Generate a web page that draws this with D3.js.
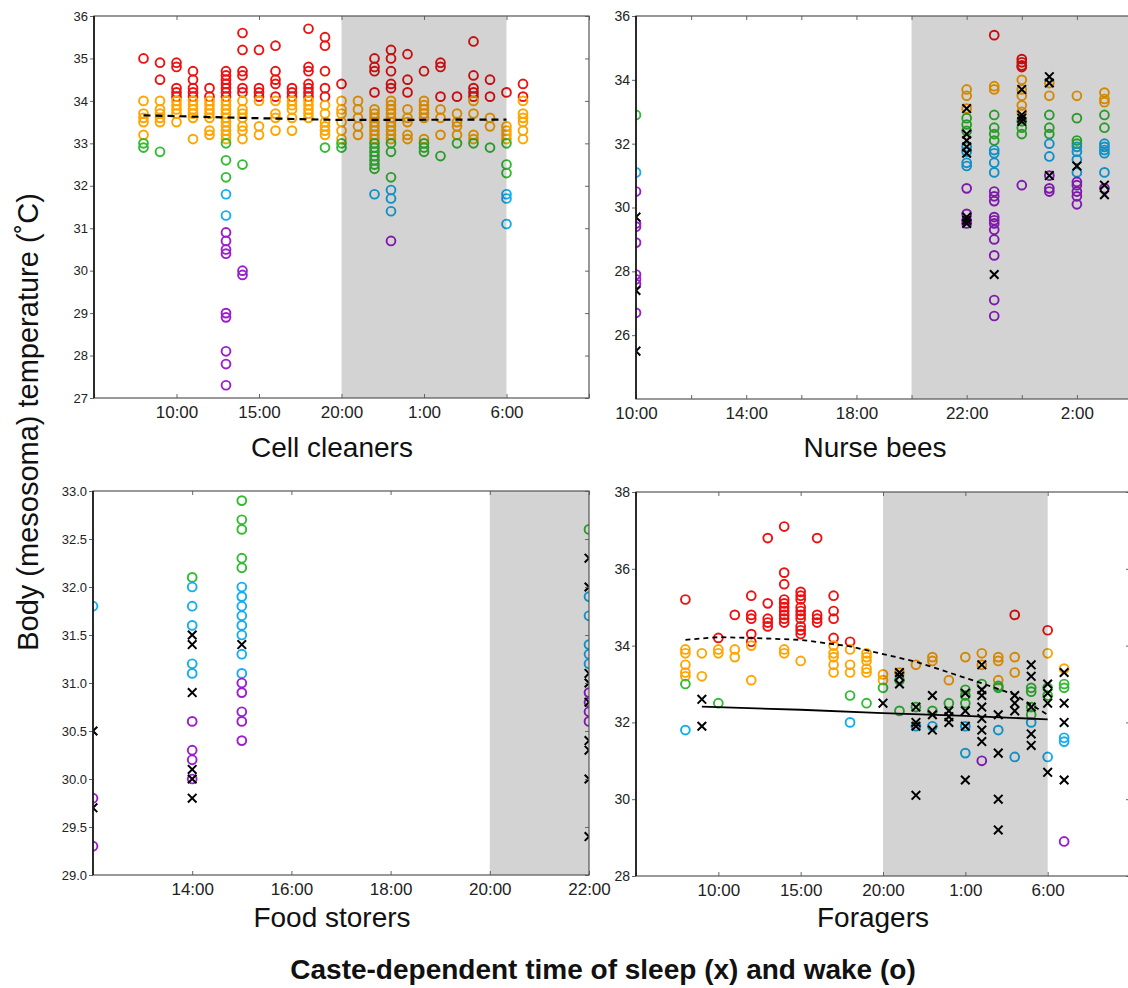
<!DOCTYPE html>
<html>
<head>
<meta charset="utf-8">
<script src="https://cdn.jsdelivr.net/npm/d3@7"></script>
<style>
  body { margin: 0; background: #fff; }
  svg { display: block; font-family: "Liberation Sans", Arial, Helvetica, sans-serif; }
</style>
</head>
<body>
<div id="chart"></div>
<script>
// hours run past midnight as 24, 25, ... (25 = 1:00 next day)
// each entry: [hour, [temperatures]]

// Cell cleaners
const cleanersRed = [
  [8, [35.0]], [9, [34.9, 34.5]], [10, [34.9, 34.8, 34.3, 34.2, 34.1]],
  [11, [34.7, 34.5, 34.3, 34.2, 34.1]], [12, [34.3, 34.1]],
  [13, [34.7, 34.6, 34.5, 34.4, 34.3, 34.2, 34.1]], [14, [35.6, 35.2, 34.7, 34.6, 34.3, 34.2]],
  [15, [35.2, 34.3, 34.2, 34.1]], [16, [35.3, 34.7, 34.5, 34.4, 34.1]], [17, [34.3, 34.2, 34.1]],
  [18, [35.7, 34.8, 34.7, 34.4, 34.3, 34.2, 34.1]], [19, [35.5, 35.3, 34.7, 34.3, 34.1]],
  [20, [34.4]], [22, [35.0, 34.8, 34.7, 34.2]], [23, [35.2, 35.0, 34.7, 34.4, 34.3]],
  [24, [35.1, 34.5, 34.2]], [25, [34.7]], [26, [34.9, 34.8, 34.1]], [27, [34.1]],
  [28, [35.4, 34.6, 34.3, 34.2, 34.1]], [29, [34.5, 34.1]], [30, [34.2]], [31, [34.4, 34.1]]
];
const cleanersOrange = [
  [8, [34.0, 33.7, 33.6, 33.5, 33.2]], [9, [34.0, 33.8, 33.7, 33.6, 33.5]],
  [10, [34.0, 33.9, 33.8, 33.7, 33.5]], [11, [34.0, 33.9, 33.8, 33.7, 33.6, 33.1]],
  [12, [34.0, 33.9, 33.8, 33.7, 33.6, 33.3, 33.2]],
  [13, [34.0, 33.9, 33.8, 33.7, 33.6, 33.5, 33.4, 33.3, 33.2, 33.1]],
  [14, [34.0, 33.8, 33.7, 33.6, 33.4, 33.3, 33.1]], [15, [34.0, 33.4, 33.2]],
  [16, [34.0, 33.7, 33.6, 33.3]], [17, [34.0, 33.9, 33.8, 33.6, 33.3]],
  [18, [34.0, 33.9, 33.8, 33.7, 33.6]], [19, [33.9, 33.7, 33.5, 33.4, 33.3, 33.2]],
  [20, [34.0, 33.8, 33.7, 33.5, 33.3, 33.1]], [21, [34.0, 33.8, 33.6, 33.4, 33.2]],
  [22, [33.8, 33.7, 33.6, 33.5, 33.4, 33.3, 33.2, 33.1]],
  [23, [34.0, 33.9, 33.8, 33.7, 33.6, 33.5, 33.4, 33.3, 33.2, 33.1]],
  [24, [33.8, 33.6, 33.5, 33.2, 33.1]], [25, [34.0, 33.9, 33.8, 33.7, 33.6, 33.1]],
  [26, [33.8, 33.6, 33.2]], [27, [33.7, 33.5, 33.4, 33.2]], [28, [34.0, 33.7, 33.2, 33.1]],
  [29, [33.6, 33.4]], [30, [33.4, 33.3, 33.2, 33.1]], [31, [34.0, 33.7, 33.6, 33.5, 33.3, 33.1]]
];
const cleanersGreen = [
  [8, [33.0, 32.9]], [9, [32.8]], [13, [33.0, 32.6, 32.2]], [14, [32.5]], [19, [32.9]],
  [20, [33.0, 32.9]], [22, [33.0, 32.9, 32.8, 32.7, 32.6, 32.5, 32.4]], [23, [33.0, 32.8, 32.2]],
  [25, [33.0, 32.9, 32.8]], [26, [32.7]], [27, [33.0]], [28, [33.0]], [29, [32.9]],
  [30, [33.0, 32.5, 32.3]]
];
const cleanersBlue = [[13, [31.8, 31.3]], [22, [31.8]], [23, [31.9, 31.7, 31.4]], [30, [31.8, 31.7, 31.1]]];
const cleanersPurple = [[13, [30.9, 30.7, 30.5, 30.4, 29.0, 28.9, 28.1, 27.8, 27.3]], [14, [30.0, 29.9]], [23, [30.7]]];
const cleanersSleep = [];
const cleanersWakeMean = [[8, 33.66], [14, 33.6], [20, 33.55], [30, 33.56]];

// Nurse bees
const nurseRed = [[23, [35.4]], [24, [34.65, 34.55, 34.45, 34.4]]];
const nurseOrange = [
  [22, [33.7, 33.5, 33.1]], [23, [33.8, 33.7]], [24, [34.0, 33.7, 33.5, 33.2, 33.0]],
  [25, [33.9, 33.5]], [26, [33.5]], [27, [33.6, 33.4, 33.3]]
];
const nurseGreen = [
  [10, [32.9]], [22, [32.8, 32.6, 32.4]], [23, [32.9, 32.5, 32.3, 32.1]], [24, [32.7, 32.5, 32.3]],
  [25, [32.9, 32.5, 32.3]], [26, [32.8, 32.1, 32.0]], [27, [32.9, 32.5]]
];
const nurseBlue = [
  [10, [31.1]], [22, [31.9, 31.75, 31.4, 31.3]], [23, [31.8, 31.7, 31.4, 31.1]], [25, [32.0, 31.6]],
  [26, [31.9, 31.75, 31.5, 31.1]], [27, [32.0, 31.9, 31.8, 31.7, 31.1]]
];
const nursePurple = [
  [10, [30.5, 29.5, 29.4, 28.9, 27.9, 27.75, 27.6, 26.7]], [22, [30.6, 29.8, 29.6, 29.5]],
  [23, [30.5, 30.35, 30.2, 29.7, 29.6, 29.5, 29.3, 29.0, 28.5, 27.1, 26.6]], [24, [30.7]],
  [25, [31.0, 30.6, 30.5]], [26, [30.8, 30.7, 30.5, 30.35, 30.1]], [27, [30.6]]
];
const nurseSleep = [
  [10, [29.7, 27.4, 25.5]], [22, [33.1, 32.3, 32.1, 31.9, 31.7, 29.7, 29.6, 29.5]], [23, [27.9]],
  [24, [33.7, 32.9, 32.8, 32.7]], [25, [34.1, 33.9, 31.0]], [26, [31.3]], [27, [30.7, 30.4]]
];

// Food storers
const storersRed = [];
const storersOrange = [];
const storersGreen = [[14, [32.1]], [15, [32.9, 32.7, 32.6, 32.3, 32.2]], [22, [32.6]]];
const storersBlue = [
  [12, [31.8]], [14, [32.0, 31.8, 31.6, 31.2, 31.1]],
  [15, [32.0, 31.9, 31.8, 31.7, 31.6, 31.5, 31.3, 31.1]], [22, [31.9, 31.7, 31.4, 31.3, 31.2]]
];
const storersPurple = [
  [12, [29.8, 29.3]], [14, [30.6, 30.3, 30.2, 30.0]], [15, [31.0, 30.9, 30.7, 30.6, 30.4]],
  [22, [30.9, 30.8, 30.7, 30.6]]
];
const storersSleep = [
  [12, [30.5, 29.7]], [14, [31.5, 31.4, 30.9, 30.1, 30.0, 29.8]], [15, [31.4]],
  [22, [32.3, 32.0, 31.1, 31.0, 30.8, 30.4, 30.3, 30.0, 29.4]]
];

// Foragers
const foragersRed = [
  [8, [35.2]], [10, [34.2]], [11, [34.8]], [12, [35.3, 34.8, 34.7, 34.3, 34.1]],
  [13, [36.8, 35.1, 34.7, 34.6, 34.5]], [14, [37.1, 35.9, 35.6, 35.2, 35.1, 35.0, 34.9, 34.8, 34.7, 34.6]],
  [15, [35.4, 35.3, 35.2, 35.0, 34.9, 34.8, 34.7, 34.5, 34.4, 34.3]], [16, [36.8, 34.8, 34.7, 34.6]],
  [17, [35.3, 34.9, 34.7, 34.2]], [18, [34.1]], [28, [34.8]], [30, [34.4]]
];
const foragersOrange = [
  [8, [33.9, 33.8, 33.5, 33.3, 33.2]], [9, [33.8, 33.2]], [10, [33.9, 33.8]], [11, [33.9, 33.7]],
  [12, [34.0, 33.1]], [14, [33.9, 33.8]], [15, [33.6]], [17, [34.0, 33.8, 33.7, 33.5, 33.3]],
  [18, [33.9, 33.5, 33.3]], [19, [33.8, 33.7, 33.6, 33.4, 33.3]], [20, [33.25, 33.1]], [21, [33.3]],
  [22, [33.5]], [23, [33.7, 33.6]], [24, [33.1]], [25, [33.7]], [26, [33.8, 33.5]],
  [27, [33.7, 33.6, 33.1]], [28, [33.7, 33.3]], [30, [33.8]], [31, [33.4]]
];
const foragersGreen = [
  [8, [33.0]], [10, [32.5]], [18, [32.7]], [19, [32.5]], [20, [32.9]], [21, [33.1, 32.3]],
  [22, [32.4]], [23, [32.3]], [24, [32.5]], [25, [32.85, 32.7, 32.5]], [26, [33.0]],
  [27, [32.95, 32.9]], [29, [32.9, 32.8, 32.4, 32.2]], [30, [32.9, 32.7]], [31, [33.0, 32.9]]
];
const foragersBlue = [
  [8, [31.8]], [18, [32.0]], [22, [31.9]], [23, [31.9]], [25, [31.9, 31.2]], [27, [31.8]],
  [28, [31.1]], [29, [32.0]], [30, [31.1]], [31, [31.6, 31.5]]
];
const foragersPurple = [[26, [31.0]], [31, [28.9]]];
const foragersSleep = [
  [9, [32.6, 31.9]], [20, [32.5]], [21, [33.3, 33.2, 33.0]], [22, [32.4, 32.0, 31.9, 30.1]],
  [23, [32.7, 32.2, 31.8]], [24, [32.3, 32.15, 32.0]], [25, [32.76, 32.3, 31.9, 30.5]],
  [26, [33.5, 32.85, 32.7, 32.4, 32.1, 31.8, 31.5]], [27, [32.2, 31.2, 30.0, 29.2]],
  [28, [32.7, 32.5, 32.3]], [29, [33.5, 33.2, 32.4, 31.7, 31.4]], [30, [33.0, 32.76, 32.5, 30.7]],
  [31, [33.3, 32.5, 32.0, 30.5]]
];
const foragersWakeMean = [
  [8, 34.15], [10, 34.22], [12, 34.2], [15, 34.15], [18, 33.98], [20, 33.78], [22, 33.58],
  [24, 33.3], [26, 33.02], [28, 32.72], [30, 32.2]
];
const foragersSleepMean = [[9, 32.41], [15, 32.33], [20, 32.24], [25, 32.17], [30, 32.08]];

const colors = { red: "#ee1111", orange: "#ffa500", green: "#33bb33", blue: "#14aeee", purple: "#9a1ed0" };

const hourLabel = h => (h % 24) + ":00";
const flat = cols => cols.flatMap(([h, temps]) => temps.map(t => [h, t]));

const svg = d3.select("#chart").append("svg")
  .attr("width", 1128)
  .attr("height", 988);
svg.append("rect").attr("width", 1128).attr("height", 988).attr("fill", "#fff");

const panels = [
  {
    id: "cleaners", title: "Cell cleaners", titleX: 332, titleY: 457,
    left: 94, right: 589, top: 16, bottom: 398,
    xDomain: [5, 35], yDomain: [27, 36], night: [20, 30],
    xTicks: [5, 10, 15, 20, 25, 30, 35], xLabels: [10, 15, 20, 25, 30],
    yTicks: d3.range(27, 36.5, 1), yFmt: d => d, yFont: 13,
    series: { red: cleanersRed, orange: cleanersOrange, green: cleanersGreen, blue: cleanersBlue, purple: cleanersPurple },
    sleep: cleanersSleep,
    lines: [{ pts: cleanersWakeMean, dash: "7,5", w: 2.2 }]
  },
  {
    id: "nurse", title: "Nurse bees", titleX: 875, titleY: 457,
    left: 636, right: 1132, top: 16, bottom: 399,
    xDomain: [10, 28], yDomain: [24, 36], night: [20, 28],
    xTicks: d3.range(10, 29, 2), xLabels: [10, 14, 18, 22, 26],
    yTicks: d3.range(26, 36.5, 2), yFmt: d => d, yFont: 14,
    series: { red: nurseRed, orange: nurseOrange, green: nurseGreen, blue: nurseBlue, purple: nursePurple },
    sleep: nurseSleep,
    lines: []
  },
  {
    id: "storers", title: "Food storers", titleX: 332, titleY: 927,
    left: 93, right: 589, top: 491, bottom: 875,
    xDomain: [12, 22], yDomain: [29, 33], night: [20, 22],
    xTicks: [14, 16, 18, 20, 22], xLabels: [14, 16, 18, 20, 22],
    yTicks: d3.range(29, 33.01, 0.5), yFmt: d3.format(".1f"), yFont: 13,
    series: { red: storersRed, orange: storersOrange, green: storersGreen, blue: storersBlue, purple: storersPurple },
    sleep: storersSleep,
    lines: []
  },
  {
    id: "foragers", title: "Foragers", titleX: 873, titleY: 927,
    left: 636, right: 1130, top: 492, bottom: 876,
    xDomain: [5, 35], yDomain: [28, 38], night: [20, 30],
    xTicks: [5, 10, 15, 20, 25, 30, 35], xLabels: [10, 15, 20, 25, 30],
    yTicks: d3.range(28, 38.5, 2), yFmt: d => d, yFont: 14,
    series: { red: foragersRed, orange: foragersOrange, green: foragersGreen, blue: foragersBlue, purple: foragersPurple },
    sleep: foragersSleep,
    lines: [
      { pts: foragersWakeMean, dash: "5,4", w: 1.8 },
      { pts: foragersSleepMean, dash: null, w: 1.8 }
    ]
  }
];

function drawPanel(p) {
  const x = d3.scaleLinear().domain(p.xDomain).range([p.left, p.right]);
  const y = d3.scaleLinear().domain(p.yDomain).range([p.bottom, p.top]);
  const g = svg.append("g").attr("class", "panel-" + p.id);

  g.append("clipPath").attr("id", "clip-" + p.id)
    .append("rect")
    .attr("x", p.left).attr("y", p.top)
    .attr("width", p.right - p.left).attr("height", p.bottom - p.top);

  const inner = g.append("g").attr("clip-path", `url(#clip-${p.id})`);

  // night shading
  inner.append("rect")
    .attr("x", x(p.night[0])).attr("y", p.top)
    .attr("width", x(p.night[1]) - x(p.night[0]))
    .attr("height", p.bottom - p.top)
    .attr("fill", "#d3d3d3");

  // wake markers (o) and sleep markers (x), multiplied onto the shading
  const marks = inner.append("g").style("mix-blend-mode", "multiply");
  Object.entries(p.series).forEach(([name, cols]) => {
    marks.selectAll(null)
      .data(flat(cols))
      .enter()
      .append("circle")
      .attr("cx", d => x(d[0]))
      .attr("cy", d => y(d[1]))
      .attr("r", 4.4)
      .attr("fill", "none")
      .attr("stroke", colors[name])
      .attr("stroke-width", 1.9);
  });
  const s = 4.3;
  marks.selectAll(null)
    .data(flat(p.sleep))
    .enter()
    .append("path")
    .attr("d", d => {
      const cx = x(d[0]), cy = y(d[1]);
      return `M${cx - s},${cy - s}L${cx + s},${cy + s}M${cx - s},${cy + s}L${cx + s},${cy - s}`;
    })
    .attr("stroke", "#000")
    .attr("stroke-width", 2)
    .attr("fill", "none");

  // mean lines
  const line = d3.line().x(d => x(d[0])).y(d => y(d[1]));
  p.lines.forEach(l => {
    inner.append("path")
      .attr("d", line(l.pts))
      .attr("fill", "none")
      .attr("stroke", "#000")
      .attr("stroke-width", l.w)
      .attr("stroke-dasharray", l.dash);
  });

  // axes
  const bottomAxis = g.append("g")
    .attr("transform", `translate(0,${p.bottom})`)
    .call(d3.axisBottom(x).tickValues(p.xTicks).tickSize(-4).tickPadding(8)
      .tickFormat(d => p.xLabels.includes(d) ? hourLabel(d) : ""));
  bottomAxis.selectAll("text").attr("font-size", 17).attr("fill", "#222")
    .attr("font-family", "Liberation Sans, Arial, sans-serif");

  const topAxis = g.append("g")
    .attr("transform", `translate(0,${p.top})`)
    .call(d3.axisTop(x).tickValues(p.xTicks).tickSize(-4).tickFormat(""));

  const leftAxis = g.append("g")
    .attr("transform", `translate(${p.left},0)`)
    .call(d3.axisLeft(y).tickValues(p.yTicks).tickSize(4).tickPadding(2).tickFormat(p.yFmt));
  leftAxis.selectAll("text").attr("font-size", p.yFont).attr("fill", "#222")
    .attr("font-family", "Liberation Sans, Arial, sans-serif");

  const rightAxis = g.append("g")
    .attr("transform", `translate(${p.right},0)`)
    .call(d3.axisRight(y).tickValues(p.yTicks).tickSize(-4).tickFormat(""));

  [bottomAxis, topAxis, leftAxis, rightAxis].forEach(a => {
    a.select(".domain").remove();
    a.selectAll("line").attr("stroke", "#666");
  });

  // frame
  g.append("rect")
    .attr("x", p.left).attr("y", p.top)
    .attr("width", p.right - p.left).attr("height", p.bottom - p.top)
    .attr("fill", "none").attr("stroke", "#555").attr("stroke-width", 1.2);
  g.append("line")
    .attr("x1", p.left).attr("x2", p.left).attr("y1", p.top).attr("y2", p.bottom)
    .attr("stroke", "#111").attr("stroke-width", 1.6);

  // panel title
  g.append("text")
    .attr("x", p.titleX).attr("y", p.titleY)
    .attr("text-anchor", "middle")
    .attr("font-size", 28)
    .attr("fill", "#111")
    .text(p.title);
}

panels.forEach(drawPanel);

svg.append("text")
  .attr("transform", "translate(38,422) rotate(-90)")
  .attr("text-anchor", "middle")
  .attr("font-size", 29)
  .attr("fill", "#111")
  .text("Body (mesosoma) temperature (˚C)");

svg.append("text")
  .attr("x", 603).attr("y", 979)
  .attr("text-anchor", "middle")
  .attr("font-size", 28)
  .attr("font-weight", "bold")
  .attr("fill", "#111")
  .text("Caste-dependent time of sleep (x) and wake (o)");
</script>
</body>
</html>
